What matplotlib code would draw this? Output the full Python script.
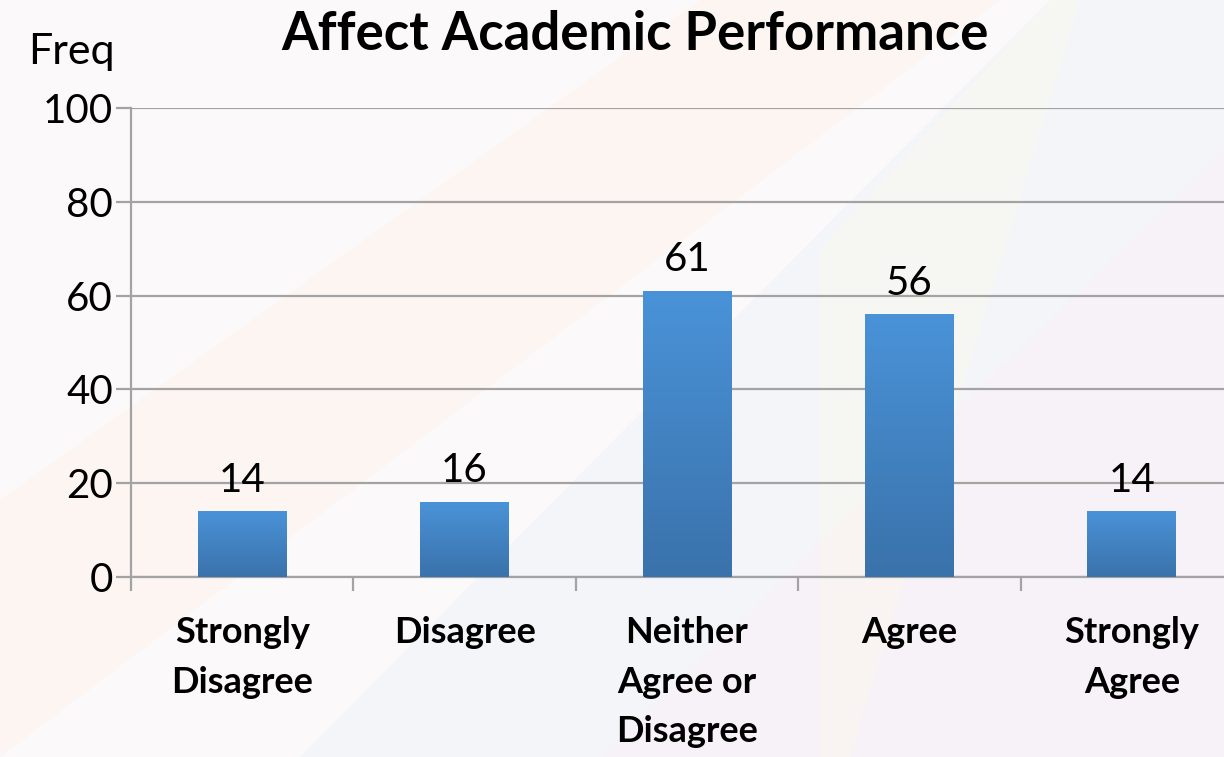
import numpy as np
import matplotlib.pyplot as plt
from matplotlib.patches import Polygon

categories = ["Strongly\nDisagree", "Disagree", "Neither\nAgree or\nDisagree", "Agree", "Strongly\nAgree"]
freq = [14, 16, 61, 56, 14]
y_ticks = [0, 20, 40, 60, 80, 100]

plt.rcParams["font.family"] = ["Lato", "DejaVu Sans"]

W, H = 1224, 757
fig = plt.figure(figsize=(W / 100, H / 100), dpi=100)
fig.patch.set_facecolor("#fbf9fa")

# faint pastel background shapes
bg = fig.add_axes([0, 0, 1, 1], zorder=-10)
bg.set_xlim(0, W)
bg.set_ylim(H, 0)
bg.axis("off")
shapes = [
    ([(0, 757), (0, 500), (700, 0), (1000, 0)], "#fdf3ec", 0.5),
    ([(300, 757), (1050, 0), (1224, 0), (1224, 150), (600, 757)], "#eef3f8", 0.6),
    ([(600, 757), (1224, 150), (1224, 757)], "#f5eef6", 0.6),
    ([(820, 757), (820, 250), (1050, 0), (1080, 0), (850, 757)], "#fdf8ea", 0.4),
]
for pts, col, a in shapes:
    bg.add_patch(Polygon(pts, closed=True, facecolor=col, edgecolor="none", alpha=a))

left, right, top, bottom = 131, 1243, 108, 577
ax = fig.add_axes([left / W, 1 - bottom / H, (right - left) / W, (bottom - top) / H])
ax.patch.set_alpha(0)

x = np.arange(len(categories))
bars = ax.bar(x, freq, width=0.4, color="#4281c6", zorder=3)

# vertical gradient on each bar
grad = np.linspace(0, 1, 256).reshape(-1, 1)
cmap = plt.matplotlib.colors.LinearSegmentedColormap.from_list("g", ["#3a72ab", "#4a93d8"])
for b in bars:
    x0, w, h = b.get_x(), b.get_width(), b.get_height()
    im = ax.imshow(grad, cmap=cmap, aspect="auto", origin="lower",
                   extent=[x0, x0 + w, 0, h], zorder=4)
    im.set_clip_path(b)

for xi, v in zip(x, freq):
    ax.annotate(str(v), (xi, v), xytext=(0, 9), textcoords="offset points",
                ha="center", va="bottom", fontsize=29, zorder=5)

ax.set_xlim(-0.5, len(categories) - 0.5)
ax.set_ylim(0, 100)
ax.set_yticks(y_ticks)
ax.set_yticklabels([str(t) for t in y_ticks], fontsize=29)
ax.yaxis.grid(True, color="#a3a3a3", linewidth=1.6, zorder=0)
ax.set_axisbelow(True)

ax.set_xticks(x)
ax.set_xticklabels(categories, fontsize=26, fontweight="bold", linespacing=1.62)
ax.set_xticks(np.arange(len(categories) + 1) - 0.5, minor=True)
ax.tick_params(axis="x", which="major", length=0, pad=28)
ax.tick_params(axis="x", which="minor", length=10, width=1.6, color="#a3a3a3")
ax.tick_params(axis="y", length=11, width=1.6, color="#a3a3a3", pad=2)

for s in ["top", "right"]:
    ax.spines[s].set_visible(False)
for s in ["left", "bottom"]:
    ax.spines[s].set_color("#a3a3a3")
    ax.spines[s].set_linewidth(1.6)

fig.text(635 / W, 1 - 10 / H, "Affect Academic Performance", ha="center", va="top",
         fontsize=38, fontweight="bold")
fig.text(28 / W, 1 - 33 / H, "Freq", ha="left", va="top", fontsize=31)

fig.savefig("out.png", dpi=100, facecolor=fig.get_facecolor())
